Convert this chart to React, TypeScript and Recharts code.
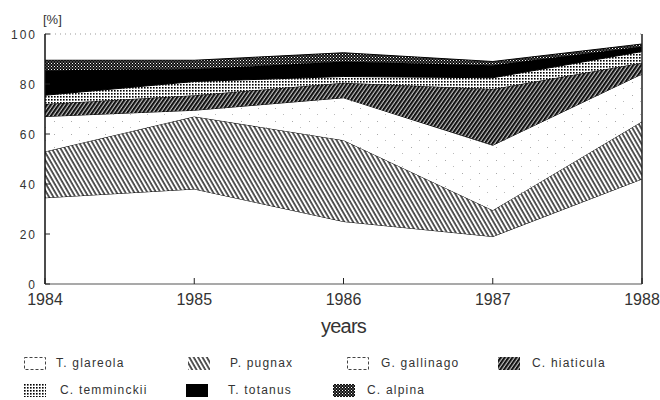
import React from 'react';
import { AreaChart, Area, XAxis, YAxis, ReferenceLine } from 'recharts';

// shares per year, bottom layer first
const years = [1984, 1985, 1986, 1987, 1988];
const glareola = [34.5, 38, 25, 19, 42];
const pugnax = [18.5, 29, 32.5, 10.5, 23];
const gallinago = [14, 2.5, 17, 26, 19];
const hiaticula = [5, 6, 6, 22.5, 4.5];
const temminckii = [3.5, 5.5, 2.5, 4.5, 4.5];
const totanus = [10, 5, 6, 5, 2];
const alpina = [4, 3.5, 3.5, 1.5, 1];
const yTicks = [0, 20, 40, 60, 80, 100];

const seriesKeys = ['glareola', 'pugnax', 'gallinago', 'hiaticula', 'temminckii', 'totanus', 'alpina'];
const seriesNames = ['T. glareola', 'P. pugnax', 'G. gallinago', 'C. hiaticula', 'C. temminckii', 'T. totanus', 'C. alpina'];
const seriesValues = [glareola, pugnax, gallinago, hiaticula, temminckii, totanus, alpina];

const fills: { [k: string]: string } = {
  glareola: '#fff',
  pugnax: 'url(#pPugnax)',
  gallinago: 'url(#pGallinago)',
  hiaticula: 'url(#pHiaticula)',
  temminckii: 'url(#pTemminckii)',
  totanus: '#000',
  alpina: 'url(#pAlpina)',
};
const dashedBox = ['glareola', 'gallinago'];

// legend placement (row 1, row 2)
const legendPos = [
  { left: 24, top: 356, gap: 10 },
  { left: 188, top: 356, gap: 20 },
  { left: 347, top: 356, gap: 12 },
  { left: 498, top: 356, gap: 12 },
  { left: 24, top: 383, gap: 14 },
  { left: 186, top: 383, gap: 20 },
  { left: 333, top: 383, gap: 12 },
];

const chartData = years.map((year, i) => {
  const row: { [k: string]: number } = { year };
  seriesKeys.forEach((k, s) => {
    row[k] = seriesValues[s][i];
  });
  return row;
});

const font = '"Liberation Sans", Arial, sans-serif';
const textColor = '#333';

const XTick = (props: any) => {
  const { x, y, payload } = props;
  return (
    <g>
      <line x1={x} x2={x} y1={y - 9} y2={y - 15} stroke='#222' />
      <text
        x={x}
        y={y}
        dy={12}
        textAnchor='middle'
        fill={textColor}
        style={{ fontFamily: '"Liberation Sans Narrow", "Liberation Sans", sans-serif', fontSize: 16 }}
      >
        {payload.value}
      </text>
    </g>
  );
};

const YTick = (props: any) => {
  const { x, y, payload } = props;
  return (
    <g>
      <line x1={x + 8} x2={x + 13} y1={y} y2={y} stroke='#222' />
      <text
        x={x}
        y={y}
        dy={5}
        textAnchor='end'
        fill={textColor}
        style={{ fontFamily: font, fontSize: 12, letterSpacing: 2 }}
      >
        {payload.value}
      </text>
    </g>
  );
};

const Swatch = ({ k }: { k: string }) => (
  <svg width={22} height={13} style={{ display: 'block' }}>
    {dashedBox.includes(k) ? (
      <rect x={0.5} y={0.5} width={21} height={12} fill='#fff' stroke='#444' strokeDasharray='3 2' />
    ) : (
      <rect x={0} y={0} width={22} height={13} fill={fills[k]} />
    )}
  </svg>
);

export default function App() {
  return (
    <div style={{ position: 'absolute', left: 0, top: 0, width: 660, height: 400, background: '#fff' }}>
      <AreaChart
        width={660}
        height={400}
        data={chartData}
        margin={{ top: 34, right: 18, bottom: 56, left: 0 }}
      >
        <defs>
          <pattern id='pPugnax' width={3.8} height={3.8} patternUnits='userSpaceOnUse' patternTransform='rotate(-30)'>
            <rect width={3.8} height={3.8} fill='#fff' />
            <line x1={1} y1={0} x2={1} y2={3.8} stroke='#000' strokeWidth={1.3} />
          </pattern>
          <pattern id='pHiaticula' width={3.2} height={3.2} patternUnits='userSpaceOnUse' patternTransform='rotate(35)'>
            <rect width={3.2} height={3.2} fill='#111' />
            <line x1={1} y1={0} x2={1} y2={3.2} stroke='#ddd' strokeWidth={1} />
          </pattern>
          <pattern id='pTemminckii' width={3} height={3} patternUnits='userSpaceOnUse'>
            <rect width={3} height={3} fill='#fff' />
            <rect x={0} y={0} width={1.6} height={1.6} fill='#000' />
          </pattern>
          <pattern id='pAlpina' width={3} height={3} patternUnits='userSpaceOnUse'>
            <rect width={3} height={3} fill='#111' />
            <rect x={0} y={0} width={1} height={1} fill='#fff' />
            <rect x={1.5} y={1.5} width={1} height={1} fill='#ccc' />
          </pattern>
          <pattern id='pGallinago' width={17} height={13} patternUnits='userSpaceOnUse'>
            <rect width={17} height={13} fill='#fff' />
            <rect x={3} y={4} width={1} height={1} fill='#aaa' />
            <rect x={11} y={10} width={1} height={1} fill='#bbb' />
          </pattern>
        </defs>
        <XAxis
          dataKey='year'
          type='number'
          domain={[1984, 1988]}
          ticks={years}
          tickSize={0}
          tickMargin={9}
          height={60}
          axisLine={{ stroke: '#555', strokeWidth: 1.2 }}
          tick={(p: any) => <XTick {...p} />}
          label={{
            value: 'years',
            position: 'insideBottom',
            offset: 11,
            style: { fontFamily: font, fontSize: 20, letterSpacing: -0.8, fill: textColor },
          }}
        />
        <YAxis
          domain={[0, 100]}
          ticks={yTicks}
          width={45}
          tickSize={0}
          tickMargin={8}
          axisLine={{ stroke: '#111', strokeWidth: 1.5 }}
          tick={(p: any) => <YTick {...p} />}
        />
        {seriesKeys.map((k, i) => (
          <Area
            key={k}
            dataKey={k}
            name={seriesNames[i]}
            stackId='s'
            type='linear'
            fill={fills[k]}
            fillOpacity={1}
            stroke='#000'
            strokeWidth={1}
            dot={false}
            activeDot={false}
            isAnimationActive={false}
          />
        ))}
        <ReferenceLine y={100} stroke='#999' strokeDasharray='1 4' />
        <ReferenceLine x={1988} stroke='#222' strokeWidth={1.5} />
      </AreaChart>
      <div style={{ position: 'absolute', left: 43, top: 12, fontFamily: font, fontSize: 13, color: textColor }}>
        [%]
      </div>
      {seriesKeys.map((k, i) => (
        <div
          key={k}
          style={{
            position: 'absolute',
            left: legendPos[i].left,
            top: legendPos[i].top,
            display: 'flex',
            alignItems: 'center',
            gap: legendPos[i].gap,
            fontFamily: font,
            fontSize: 12,
            letterSpacing: 1.2,
            color: textColor,
          }}
        >
          <Swatch k={k} />
          <span>{seriesNames[i]}</span>
        </div>
      ))}
    </div>
  );
}
